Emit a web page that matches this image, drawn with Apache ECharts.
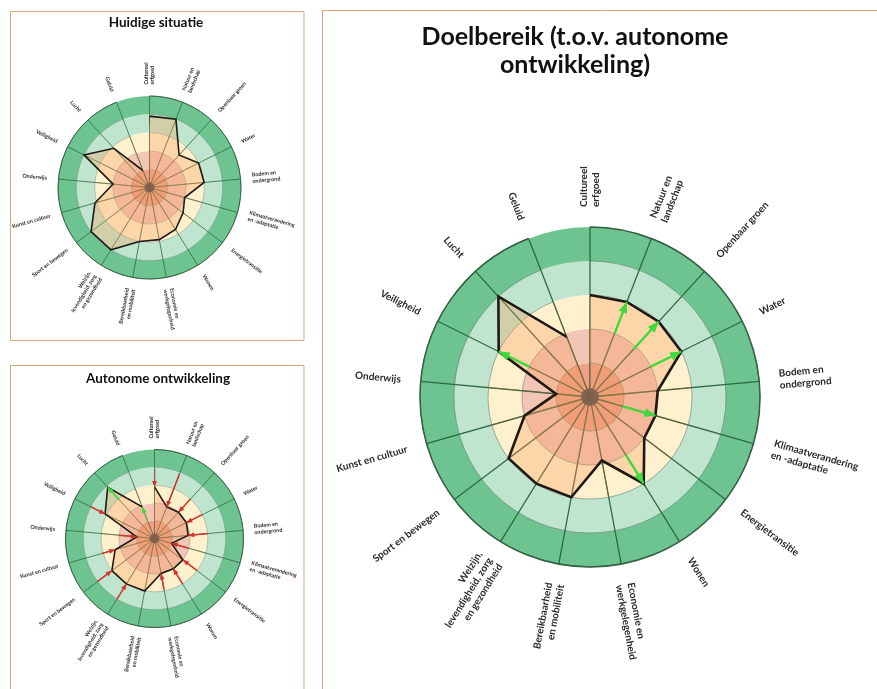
<!DOCTYPE html>
<html>
<head>
<meta charset="utf-8">
<script src="https://cdn.jsdelivr.net/npm/echarts@6/dist/echarts.min.js"></script>
<style>
  html, body { margin: 0; padding: 0; background: #fff; }
  #chart { width: 877px; height: 689px; }
</style>
</head>
<body>
<div id="chart"></div>
<script>
// categories, clockwise from the top
var categories = ['Cultureel erfgoed', 'Natuur en landschap', 'Openbaar groen', 'Water',
    'Bodem en ondergrond', 'Klimaatverandering en -adaptatie', 'Energietransitie', 'Wonen',
    'Economie en werkgelegenheid', 'Bereikbaarheid en mobiliteit',
    'Welzijn, levendigheid, zorg en gezondheid', 'Sport en bewegen', 'Kunst en cultuur',
    'Onderwijs', 'Veiligheid', 'Lucht', 'Geluid'];
var axisLabels = ['Cultureel\nerfgoed', 'Natuur en\nlandschap', 'Openbaar groen', 'Water',
    'Bodem en\nondergrond', 'Klimaatverandering\nen -adaptatie', 'Energietransitie', 'Wonen',
    'Economie en\nwerkgelegenheid', 'Bereikbaarheid\nen mobiliteit',
    'Welzijn,\nlevendigheid, zorg\nen gezondheid', 'Sport en bewegen', 'Kunst en cultuur',
    'Onderwijs', 'Veiligheid', 'Lucht', 'Geluid'];

// score 0..5, one band per point
var bandColors = ['#EF9F86', '#F3C5B5', '#FFF1CD', '#C0E5CF', '#6DC491'];

var huidige   = [3.9, 4.0, 2.4, 3.0, 3.0, 2.0, 2.3, 2.7, 2.9, 3.0, 4.0, 4.0, 3.1, 2.0, 4.0, 2.9, 1.0];
var autonoom  = [2.9, 1.9, 2.0, 2.0, 1.9, 1.0, 2.0, 2.0, 2.0, 3.0, 3.0, 3.0, 2.3, 1.0, 3.1, 3.9, 1.9];
// arrows in "Autonome ontwikkeling": start value (huidige situatie), null = no arrow
var autonoomVan = [3.9, 3.9, 3.0, 3.0, 3.0, 2.0, 3.0, 3.0, 2.9, null, 4.0, 4.0, 3.1, 2.0, 4.0, 3.0, 1.0];
var doel      = [3.0, 3.0, 3.0, 3.0, 2.0, 2.0, 2.0, 3.0, 1.9, 3.0, 3.0, 3.0, 2.0, 1.0, 3.0, 4.0, 1.9];
// arrows in "Doelbereik": start value, null = no arrow
var doelVan   = [null, 2.0, 1.9, 2.0, null, 1.0, null, 2.0, null, null, null, null, null, null, 2.0, null, null];

var GREEN = '#3FD93F', RED = '#D0342C';
var N = categories.length;

var chart = echarts.init(document.getElementById('chart'));

var polar = [], angleAxis = [], radiusAxis = [], series = [];

function addWheel(cx, cy, R, values, arrowFrom, s) {
    var p = polar.length;
    polar.push({center: [cx, cy], radius: R},
               {center: [cx, cy], radius: R},
               {center: [cx, cy], radius: R * 0.6});
    var hidden = {show: false};
    // bands + dark green spokes
    angleAxis.push({polarIndex: p, type: 'category', data: categories, startAngle: 90, boundaryGap: false, z: 1,
        axisLine: {show: true, lineStyle: {color: '#285c37', width: s.outline}},
        axisTick: hidden, axisLabel: hidden,
        splitLine: {show: true, lineStyle: {color: '#2c6a3e', width: s.spoke}}});
    radiusAxis.push({polarIndex: p, type: 'value', min: 0, max: 5, interval: 1, z: 0,
        axisLine: hidden, axisTick: hidden, axisLabel: hidden, splitLine: hidden,
        splitArea: {show: true, areaStyle: {color: bandColors}}});
    // ring lines
    angleAxis.push({polarIndex: p + 1, type: 'category', data: categories, startAngle: 90, boundaryGap: false, show: false});
    radiusAxis.push({polarIndex: p + 1, type: 'value', min: 0, max: 5, interval: 1, z: 2,
        axisLine: hidden, axisTick: hidden, axisLabel: hidden,
        splitLine: {show: true, lineStyle: {color: 'rgba(80,100,90,0.5)', width: s.ring}}});
    // inner brownish spokes
    angleAxis.push({polarIndex: p + 2, type: 'category', data: categories, startAngle: 90, boundaryGap: false, z: 2,
        axisLine: hidden, axisTick: hidden, axisLabel: hidden,
        splitLine: {show: true, lineStyle: {color: 'rgba(150,90,60,0.55)', width: s.spoke * 0.8}}});
    radiusAxis.push({polarIndex: p + 2, type: 'value', min: 0, max: 3, show: false});

    var pts = values.map(function (v, i) { return [v, i]; });
    pts.push([values[0], 0]);
    series.push({type: 'line', coordinateSystem: 'polar', polarIndex: p, data: pts,
        symbol: 'none', z: 3, silent: true, animation: false,
        lineStyle: {color: '#1e1915', width: s.edge, join: 'miter'},
        areaStyle: {color: 'rgba(245,158,92,0.45)'}});

    if (arrowFrom) {
        arrowFrom.forEach(function (from, i) {
            if (from == null || from === values[i]) return;
            var to = values[i];
            var up = to > from;
            var deg = i * 360 / N;
            var rad = deg * Math.PI / 180;
            var h = s.head[1];
            var k = up ? 1 : -1;
            var col = up ? GREEN : RED;
            series.push({type: 'line', coordinateSystem: 'polar', polarIndex: p, z: 4,
                silent: true, animation: false, symbol: 'none',
                lineStyle: {color: col, width: s.arrow}, itemStyle: {color: col},
                data: [{value: [from, i]},
                       {value: [to, i], symbol: 'triangle', symbolSize: s.head,
                        symbolRotate: up ? -deg : 180 - deg,
                        symbolOffset: [-k * h / 2 * Math.sin(rad), k * h / 2 * Math.cos(rad)]}]});
        });
    }

    series.push({type: 'scatter', coordinateSystem: 'polar', polarIndex: p, data: [[0, 0]],
        symbolSize: s.dot, itemStyle: {color: '#7a5a4b'}, z: 5, silent: true, animation: false});

    // category names, set radially round the wheel
    series.push({type: 'pie', center: [cx, cy], radius: [s.labelR - 1, s.labelR],
        startAngle: 90 + 180 / N - 0.01, silent: true, animation: false, avoidLabelOverlap: false,
        itemStyle: {color: 'rgba(0,0,0,0)'},
        labelLine: {show: false, length: 0, length2: 0},
        label: {show: true, position: 'outside', rotate: 'radial', distanceToLabelLine: 0,
            fontSize: s.font, lineHeight: s.font * 1.2, fontFamily: 'Lato', fontWeight: 'bold', color: '#2a2a2a'},
        emphasis: {disabled: true},
        data: axisLabels.map(function (t) { return {name: t, value: 1}; })});
}

addWheel(149.5, 187.5, 91.5, huidige, null,
    {outline: 1, spoke: 0.8, ring: 0.7, edge: 1.6, arrow: 1.4, head: [5, 6], dot: 10, labelR: 103, font: 5.4});
addWheel(154.5, 538.5, 89, autonoom, autonoomVan,
    {outline: 1, spoke: 0.8, ring: 0.7, edge: 1.6, arrow: 1.5, head: [5, 6], dot: 10, labelR: 100, font: 5.4});
addWheel(590, 397, 170, doel, doelVan,
    {outline: 1.5, spoke: 1.3, ring: 1, edge: 2.6, arrow: 2.4, head: [9, 11], dot: 18, labelR: 190, font: 10});

var titleFont = {fontFamily: 'Lato', fontWeight: 'bold', color: '#111'};

var option = {
    backgroundColor: '#ffffff',
    animation: false,
    title: [
        {text: 'Huidige situatie', left: 156, top: 16, textAlign: 'center', padding: 0,
         textStyle: Object.assign({fontSize: 13.5}, titleFont)},
        {text: 'Autonome ontwikkeling', left: 158, top: 372, textAlign: 'center', padding: 0,
         textStyle: Object.assign({fontSize: 13.5}, titleFont)},
        {text: 'Doelbereik (t.o.v. autonome\nontwikkeling)', left: 575, top: 23, textAlign: 'center', padding: 0,
         textStyle: Object.assign({fontSize: 25, lineHeight: 28}, titleFont)}
    ],
    graphic: [
        {type: 'rect', shape: {x: 10.5, y: 11.5, width: 293.5, height: 329}, z: -10,
         style: {fill: '#fff', stroke: '#E0A27C', lineWidth: 1}},
        {type: 'rect', shape: {x: 10.5, y: 365.5, width: 293.5, height: 340}, z: -10,
         style: {fill: '#fff', stroke: '#E0A27C', lineWidth: 1}},
        {type: 'rect', shape: {x: 322.5, y: 10.5, width: 580, height: 700}, z: -10,
         style: {fill: '#fff', stroke: '#E0A27C', lineWidth: 1}}
    ],
    polar: polar,
    angleAxis: angleAxis,
    radiusAxis: radiusAxis,
    series: series
};

chart.setOption(option);
</script>
</body>
</html>
